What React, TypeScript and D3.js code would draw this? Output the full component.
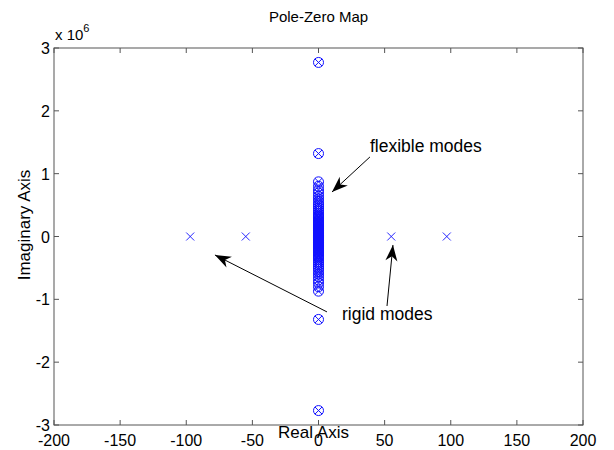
import React from "react";
import * as d3 from "d3";

const xTicks = [-200, -150, -100, -50, 0, 50, 100, 150, 200];
const yTicks = [-3, -2, -1, 0, 1, 2, 3];

// Real-axis poles (x markers only)
const rigidPoles = [-97, -55, 55, 97];
// Imaginary-axis pole/zero pairs (in units of 1e6), positive half; mirrored below
const flexImag = [
  2.77, 1.32, 0.87, 0.8, 0.74, 0.69, 0.64, 0.6, 0.56, 0.52, 0.49, 0.46, 0.43,
  0.4, 0.37, 0.345, 0.32, 0.3, 0.28, 0.26, 0.24, 0.22, 0.2, 0.185, 0.17, 0.155,
  0.14, 0.125, 0.11, 0.1, 0.09, 0.08, 0.07, 0.06, 0.05, 0.04, 0.03, 0.02, 0.01,
  0.003,
];

const W = 614;
const H = 450;
const M = { left: 54, right: 583, top: 48, bottom: 425 };
const blue = "#1010ff";
const font = "'Liberation Sans', Arial, sans-serif";

export default function App() {
  const x = d3.scaleLinear().domain([-200, 200]).range([M.left, M.right]);
  const y = d3.scaleLinear().domain([-3, 3]).range([M.bottom, M.top]);
  const yv = (v: number) => y(v);

  const allImag = [...flexImag, ...flexImag.map((v) => -v)];

  const arrows = [
    { x1: 38.9, y1: 1.266, x2: 10.2, y2: 0.708 },
    { x1: 6.4, y1: -1.2, x2: -78.3, y2: -0.294 },
    { x1: 51.8, y1: -1.106, x2: 56.3, y2: -0.135 },
  ];

  const arrowHead = (a: typeof arrows[0]) => {
    const x1 = x(a.x1), y1 = yv(a.y1), x2 = x(a.x2), y2 = yv(a.y2);
    const ang = Math.atan2(y2 - y1, x2 - x1);
    const len = 16, wid = 6;
    const bx = x2 - len * Math.cos(ang), by = y2 - len * Math.sin(ang);
    const ix = x2 - len * 0.7 * Math.cos(ang), iy = y2 - len * 0.7 * Math.sin(ang);
    const px = -Math.sin(ang), py = Math.cos(ang);
    return `M${x2},${y2} L${bx + px * wid},${by + py * wid} L${ix},${iy} L${bx - px * wid},${by - py * wid} Z`;
  };

  const xm = (cx: number, cy: number, s: number) =>
    `M${cx - s},${cy - s}L${cx + s},${cy + s}M${cx - s},${cy + s}L${cx + s},${cy - s}`;

  return (
    <svg width={W} height={H} style={{ position: "absolute", left: 0, top: 0, background: "#fff" }}>
      <rect x={0} y={0} width={W} height={H} fill="#fff" />
      {/* title */}
      <text x={x(0)} y={22} textAnchor="middle" fontFamily={font} fontSize={15}>
        Pole-Zero Map
      </text>
      {/* axes box */}
      <rect x={M.left} y={M.top} width={M.right - M.left} height={M.bottom - M.top} fill="none" stroke="#555" strokeWidth={1} />
      {xTicks.map((t) => (
        <g key={"xt" + t}>
          <line x1={x(t)} x2={x(t)} y1={M.bottom} y2={M.bottom - 5} stroke="#555" />
          <line x1={x(t)} x2={x(t)} y1={M.top} y2={M.top + 5} stroke="#555" />
          <text x={x(t)} y={446} textAnchor="middle" fontFamily={font} fontSize={16}>
            {t}
          </text>
        </g>
      ))}
      {yTicks.map((t) => (
        <g key={"yt" + t}>
          <line x1={M.left} x2={M.left + 5} y1={y(t)} y2={y(t)} stroke="#555" />
          <line x1={M.right} x2={M.right - 5} y1={y(t)} y2={y(t)} stroke="#555" />
          <text x={M.left - 4} y={y(t) + 6} textAnchor="end" fontFamily={font} fontSize={16}>
            {t}
          </text>
        </g>
      ))}
      {/* exponent */}
      <text x={55} y={40} fontFamily={font} fontSize={15}>
        x 10
        <tspan dy={-8} fontSize={11}>6</tspan>
      </text>
      {/* axis labels */}
      <text x={x(0) - 5} y={438} textAnchor="middle" fontFamily={font} fontSize={17}>
        Real Axis
      </text>
      <text transform={`translate(30,225) rotate(-90)`} textAnchor="middle" fontFamily={font} fontSize={17}>
        Imaginary Axis
      </text>
      {/* rigid poles */}
      {rigidPoles.map((p) => (
        <path key={"rp" + p} d={xm(x(p), y(0), 4)} stroke={blue} strokeWidth={0.9} fill="none" />
      ))}
      {/* flexible poles/zeros */}
      {allImag.map((v, i) => (
        <g key={"f" + i}>
          <circle cx={x(0)} cy={yv(v)} r={5} fill="none" stroke={blue} strokeWidth={1} />
          <path d={xm(x(0), yv(v), 3.6)} stroke={blue} strokeWidth={1} fill="none" />
        </g>
      ))}
      {/* annotations */}
      {arrows.map((a, i) => (
        <g key={"a" + i}>
          <line x1={x(a.x1)} y1={yv(a.y1)} x2={x(a.x2)} y2={yv(a.y2)} stroke="#000" strokeWidth={1} />
          <path d={arrowHead(a)} fill="#000" />
        </g>
      ))}
      <text x={x(38.9)} y={yv(1.345)} fontFamily={font} fontSize={17.5}>
        flexible modes
      </text>
      <text x={x(17.8)} y={yv(-1.33)} fontFamily={font} fontSize={17.5}>
        rigid modes
      </text>
    </svg>
  );
}
